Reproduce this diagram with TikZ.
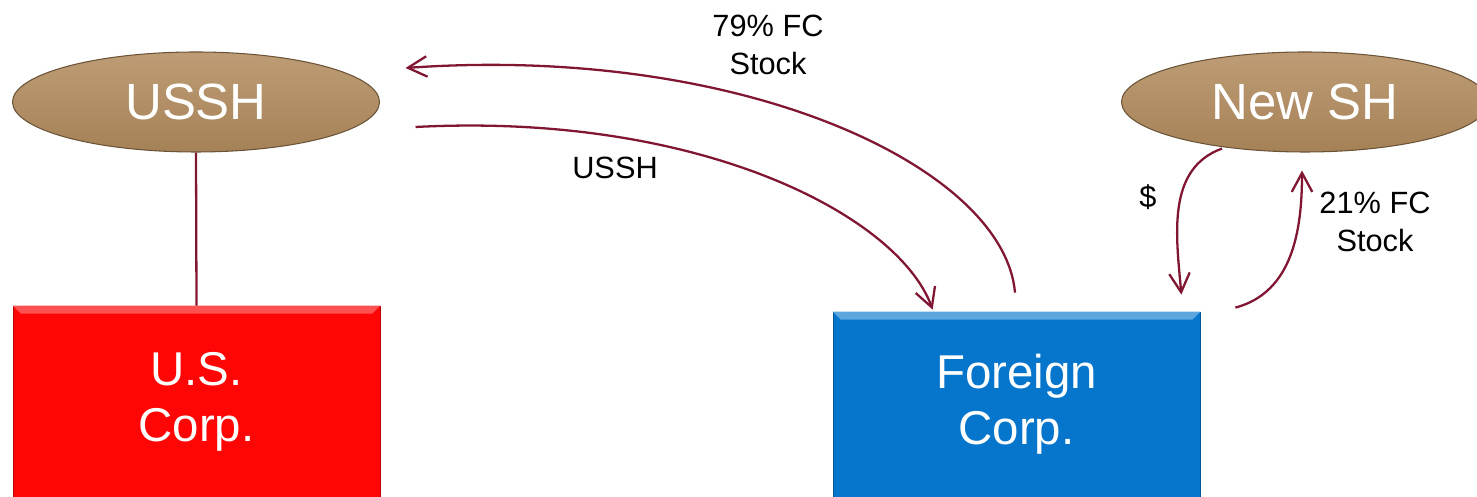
\documentclass[tikz,border=0pt]{standalone}
\usepackage{fontspec}
\setmainfont{Liberation Sans}
\usetikzlibrary{shapes.geometric,arrows.meta,positioning}
\definecolor{holdertan}{RGB}{178,139,93}
\definecolor{usred}{RGB}{254,6,6}
\definecolor{fcblue}{RGB}{6,118,204}
\definecolor{flowred}{RGB}{128,22,50}

\begin{document}
\begin{tikzpicture}[
    holder/.style={ellipse, top color=holdertan!85!white,
      middle color=holdertan, bottom color=holdertan!93!black,
      draw=holdertan!60!black, line width=0.6pt,
      minimum width=7.34cm, minimum height=2cm,
      text=white, font=\fontsize{29}{34}\selectfont},
    corp/.style={rectangle, minimum width=7.34cm, text=white,
      align=center, font=\fontsize{27}{32}\selectfont},
    bevel/.style={fill=#1, draw=none},
    flow/.style={draw=flowred, line width=1.3pt,
      -{Straight Barb[length=3.8mm,width=4.1mm]}},
    note/.style={align=center, font=\fontsize{17.5}{21.5}\selectfont}]
  \useasboundingbox (0,0) rectangle (29.54,9.94);

  % shareholders and companies
  \node[holder] (ussh) at (3.92,7.90) {USSH};
  \node[holder] (newsh) at (26.10,7.90) {New SH};
  \node[corp, fill=usred, draw=usred!75!black, minimum height=3.82cm]
    (us) at (3.93,1.91) {U.S.\\Corp.};
  \node[corp, fill=fcblue, draw=fcblue!75!black, minimum height=3.70cm]
    (fc) at (20.33,1.85) {Foreign\\Corp.};

  % lighter top edge on the boxes
  \fill[bevel=usred!70!white] (us.north west) -- (us.north east)
    -- ([shift={(-0.16,-0.16)}]us.north east)
    -- ([shift={(0.16,-0.16)}]us.north west) -- cycle;
  \fill[bevel=fcblue!65!white] (fc.north west) -- (fc.north east)
    -- ([shift={(-0.16,-0.16)}]fc.north east)
    -- ([shift={(0.16,-0.16)}]fc.north west) -- cycle;

  % ownership line
  \draw[draw=flowred, line width=1.3pt] (ussh.south) -- (us.north);

  % exchange between USSH and Foreign Corp.
  \draw[flow] ([shift={(0.71,-0.50)}]ussh.east) to[out=3, in=110,
    out distance=5.7cm, in distance=2cm]
    ([shift={(2.00,0.04)}]fc.north west);
  \draw[flow] ([shift={(-0.03,0.38)}]fc.north) to[out=95, in=4,
    out distance=2.5cm, in distance=6.8cm]
    ([shift={(0.51,0.68)}]ussh.east);
  \node[note] (stock79) at (15.36,9.04) {79\% FC\\Stock};
  \node[note] (usshlbl) at (12.30,6.58) {USSH};

  % cash in, stock out
  \draw[flow] ([shift={(-1.66,0.08)}]newsh.south) to[out=200, in=95]
    ([shift={(-0.38,0.34)}]fc.north east);
  \draw[flow] ([shift={(0.70,0.08)}]fc.north east) to[out=15, in=-90]
    ([shift={(-0.06,-0.36)}]newsh.south);
  \node[note] (cash) at (22.96,6.00) {\$};
  \node[note] (stock21) at (27.50,5.50) {21\% FC\\Stock};
\end{tikzpicture}
\end{document}
